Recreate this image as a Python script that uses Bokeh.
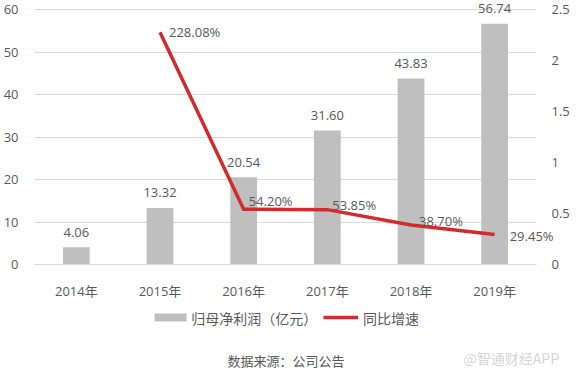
from bokeh.plotting import figure
from bokeh.models import ColumnDataSource, Range1d, LinearAxis, FixedTicker, FactorRange
from bokeh.core.properties import value
from bokeh.embed import file_html
from bokeh.resources import INLINE

years = ["2014年", "2015年", "2016年", "2017年", "2018年", "2019年"]
profit = [4.06, 13.32, 20.54, 31.60, 43.83, 56.74]
growth_years = ["2015年", "2016年", "2017年", "2018年", "2019年"]
growth = [2.2808, 0.5420, 0.5385, 0.3870, 0.2945]
left_ticks = [0, 10, 20, 30, 40, 50, 60]
right_ticks = [0, 0.5, 1, 1.5, 2, 2.5]
legend_labels = ["归母净利润（亿元）", "同比增速"]
source_text = "数据来源：公司公告"
watermark = "@智通财经APP"

# label placement styles (screen px)
growth_xoff = [9, 5, 5, 8, 15]
growth_yoff = [0, -8, -5, -4, 1]

FONT = "'Open Sans', 'Noto Sans CJK SC'"
CJK = "'Noto Sans CJK SC'"
TXT = "#595959"
BAR = "#bfbfbf"
RED = "#d22b2b"

W, H = 578, 377
ML, MR, MT, MB = 27, 42, 0, 113
FW, FH = W - ML - MR, H - MT - MB
U = FW / len(years)          # pixels per category (synthetic x unit)

left_end = 62.2
p = figure(width=W, height=H, x_range=FactorRange(*years),
           y_range=Range1d(0, left_end), output_backend="svg",
           toolbar_location=None, min_border_left=ML, min_border_right=MR,
           min_border_top=MT, min_border_bottom=MB)
p.outline_line_color = None
p.extra_y_ranges = {"right": Range1d(0, 2.5 * left_end / 60),
                    "px": Range1d(0, FH)}

bar_src = ColumnDataSource(dict(x=years, top=profit,
                                lab=[f"{v:.2f}" for v in profit]))
p.vbar(x="x", top="top", width=0.32, source=bar_src,
       fill_color=BAR, line_color=None)
t1 = p.text(x="x", y="top", text="lab", source=bar_src, y_offset=-15,
            text_align="center", text_baseline="middle",
            text_font=value(FONT), text_font_size="13px", text_color=TXT)
t1.level = "overlay"

line_src = ColumnDataSource(dict(x=growth_years, y=growth,
                                 lab=[f"{v*100:.2f}%" for v in growth],
                                 xo=growth_xoff, yo=growth_yoff))
p.line(x="x", y="y", source=line_src, y_range_name="right",
       line_color=RED, line_width=3.5, line_join="miter")
t2 = p.text(x="x", y="y", text="lab", source=line_src, y_range_name="right",
            x_offset="xo", y_offset="yo", text_align="left", text_baseline="middle",
            text_font=value(FONT), text_font_size="13px", text_color=TXT)
t2.level = "overlay"

# axes
p.yaxis.ticker = FixedTicker(ticks=left_ticks)
p.yaxis.axis_line_color = None
p.yaxis.major_tick_line_color = None
p.yaxis.minor_tick_line_color = None
p.yaxis.major_label_standoff = 10
p.yaxis.major_label_text_font = FONT
p.yaxis.major_label_text_font_size = "13px"
p.yaxis.major_label_text_color = TXT

ra = LinearAxis(y_range_name="right", ticker=FixedTicker(ticks=right_ticks))
ra.axis_line_color = None
ra.major_tick_line_color = None
ra.minor_tick_line_color = None
ra.major_label_standoff = 9
ra.major_label_text_font = FONT
ra.major_label_text_font_size = "13px"
ra.major_label_text_color = TXT
p.add_layout(ra, "right")

p.xaxis.axis_line_color = "#d9d9d9"
p.xaxis.major_tick_line_color = None
p.xaxis.minor_tick_line_color = None
p.xaxis.major_label_standoff = 11
p.xaxis.major_label_text_font = FONT
p.xaxis.major_label_text_font_size = "13px"
p.xaxis.major_label_text_color = TXT

p.xgrid.grid_line_color = None
p.ygrid.grid_line_color = "#d9d9d9"
p.ygrid.ticker = FixedTicker(ticks=left_ticks)

# legend (below the frame; frame-pixel coordinates)
ly = -53
sw = p.rect(x=[138 / U], y=[ly], width=32, height=8, width_units="screen",
            height_units="screen", y_range_name="px",
            fill_color=BAR, line_color=None)
sw.level = "overlay"
sl = p.segment(x0=[293 / U], y0=[ly], x1=[328 / U], y1=[ly], y_range_name="px",
               line_color=RED, line_width=3.5)
sl.level = "overlay"
lt = p.text(x=[159 / U, 333 / U], y=[ly, ly], text=legend_labels,
            y_range_name="px", text_align="left", text_baseline="middle",
            text_font=value(CJK), text_font_size="14px", text_color=TXT)
lt.level = "overlay"

# footer texts
t3 = p.text(x=[255 / U], y=[-96], text=[source_text], y_range_name="px",
            text_align="center", text_baseline="middle",
            text_font=value(CJK), text_font_size="13px", text_color=TXT)
t3.level = "overlay"
t4 = p.text(x=[435 / U], y=[-93], text=[watermark], y_range_name="px",
            text_align="left", text_baseline="middle",
            text_font=value(CJK), text_font_size="14px", text_color="#d6d6d6")
t4.level = "overlay"

open("out.html", "w").write(file_html(p, INLINE))
